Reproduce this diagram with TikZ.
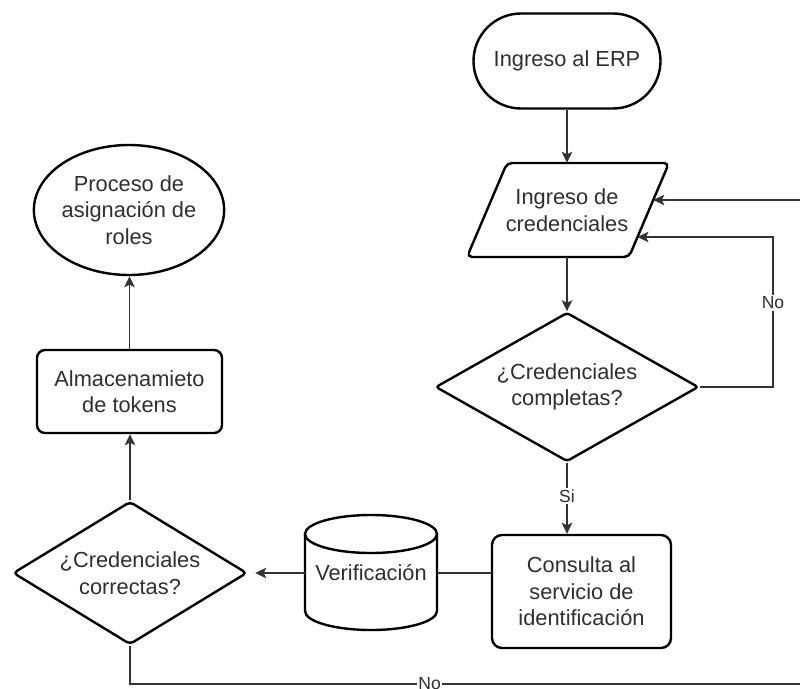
\documentclass[tikz,border=0pt]{standalone}
\usepackage{fontspec}
\setmainfont{Liberation Sans}
\usetikzlibrary{shapes.geometric,shapes.misc,arrows.meta,calc}

\begin{document}
\begin{tikzpicture}[x=1pt,y=-1pt,
  every node/.style={font=\fontsize{21.8}{26.5}\selectfont, text=black!82, align=center, inner sep=0pt},
  box/.style={draw=black, line width=2.4pt},
  link/.style={draw=black!80, line width=1.5pt},
  arr/.style={link, -{Stealth[length=11pt,width=10.5pt,inset=2.5pt]}},
  tag/.style={font=\fontsize{17.5}{20}\selectfont, fill=white, inner sep=1.5pt}
]
\useasboundingbox (0,0) rectangle (800,688);
\clip (0,0) rectangle (800,688);

% ---- login column ----
\node[box, rounded rectangle, minimum width=187, minimum height=95] (erp) at (567,61) {Ingreso al ERP};

% input parallelogram: outline drawn directly, text and anchors in the node
\draw[box, rounded corners=5] (507,163) -- (669,163) -- (629,257) -- (467,257) -- cycle;
\node[minimum width=162, minimum height=94] (cred) at (567,210) {Ingreso de\\credenciales};
\coordinate (credA) at (653.3,200);
\coordinate (credB) at (637.5,237);

\node[box, diamond, aspect=1.76, minimum width=263, minimum height=149, rounded corners=3] (comp) at (567,387) {¿Credenciales\\completas?};
\node[box, rectangle, rounded corners=10, minimum width=179, minimum height=113] (cons) at (581.5,591.5) {Consulta al\\servicio de\\identificación};

% ---- verification database ----
\node[minimum width=132, minimum height=115] (ver) at (371,573) {Verificación};
\draw[box] (305,534) -- (305,611) arc[start angle=180, end angle=0, x radius=66, y radius=19] -- (437,534);
\draw[box, fill=white] (371,534) ellipse[x radius=66, y radius=19];

% ---- token column ----
\node[box, diamond, aspect=1.64, minimum width=234, minimum height=143, rounded corners=4] (corr) at (130,573) {¿Credenciales\\correctas?};
\node[box, rectangle, rounded corners=8, minimum width=185, minimum height=83] (alm) at (129.5,391.5) {Almacenamieto\\de tokens};
\node[box, ellipse, minimum width=188, minimum height=130] (rol) at (129,210) {Proceso de\\asignación de\\roles};

% ---- connectors ----
\coordinate (nx) at (773,300);
\coordinate (far) at (830,684);

\draw[arr] (erp.south) -- (erp.south |- cred.north);
\draw[arr] (cred.south) -- (cred.south |- comp.north);
\draw[arr] (comp.east) -| node[tag, pos=0.78] {No} (nx |- credB) -- (credB);
\draw[arr] (comp.south) -- node[tag, pos=0.47] {Si} (comp.south |- cons.north);
\draw[link] (cons.west |- ver.east) -- (ver.east);
\draw[arr, shorten >=7pt] (ver.west) -- (corr.east);
\draw[arr] (corr.north) -- (corr.north |- alm.south);
\draw[arr] (alm.north) -- (alm.north |- rol.south);
\draw[arr] (corr.south) |- node[tag, pos=0.714] {No} (far) |- (credA);
\end{tikzpicture}
\end{document}
